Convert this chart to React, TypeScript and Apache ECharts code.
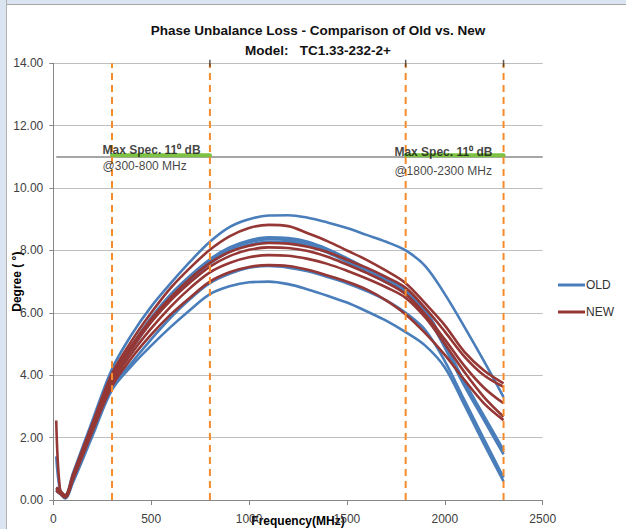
import React, { useEffect, useRef } from 'react';
import * as echarts from 'echarts';

// ---------- data ----------
const freqs = [15, 35, 60, 100, 200, 300, 400, 500, 600, 700, 800, 900, 1000, 1100, 1200, 1300, 1400, 1500, 1600, 1700, 1800, 1900, 2000, 2100, 2200, 2300];

const old1 = [0.35, 0.25, 0.15, 0.85, 2.55, 4.2, 5.3, 6.2, 6.95, 7.65, 8.28, 8.75, 9.0, 9.12, 9.13, 9.05, 8.9, 8.72, 8.5, 8.28, 8.0, 7.5, 6.6, 5.55, 4.45, 3.3];
const old2 = [1.4, 0.3, 0.1, 0.75, 2.4, 3.95, 4.95, 5.85, 6.6, 7.2, 7.72, 8.1, 8.32, 8.42, 8.4, 8.28, 8.05, 7.75, 7.42, 7.1, 6.75, 6.1, 5.0, 3.8, 2.7, 1.6];
const old3 = [0.35, 0.25, 0.1, 0.7, 2.35, 3.9, 4.9, 5.8, 6.52, 7.13, 7.66, 8.03, 8.26, 8.36, 8.34, 8.22, 8.0, 7.7, 7.38, 7.05, 6.7, 6.03, 4.95, 3.72, 2.62, 1.52];
const old4 = [0.4, 0.3, 0.12, 0.7, 2.3, 3.85, 4.82, 5.72, 6.45, 7.06, 7.58, 7.96, 8.18, 8.28, 8.27, 8.15, 7.93, 7.63, 7.3, 6.98, 6.63, 5.97, 4.88, 3.66, 2.56, 1.46];
const old5 = [0.3, 0.2, 0.08, 0.62, 2.15, 3.6, 4.4, 5.15, 5.85, 6.45, 6.95, 7.25, 7.45, 7.5, 7.45, 7.33, 7.15, 6.95, 6.7, 6.4, 6.0, 5.45, 4.45, 3.2, 1.95, 0.72];
const old6 = [0.3, 0.2, 0.05, 0.55, 2.05, 3.53, 4.3, 4.95, 5.55, 6.1, 6.6, 6.85, 6.98, 7.0, 6.92, 6.75, 6.55, 6.33, 6.05, 5.75, 5.38, 4.95, 4.25, 3.05, 1.8, 0.6];

const new1 = [0.4, 0.3, 0.15, 0.8, 2.45, 4.05, 5.1, 6.0, 6.8, 7.45, 8.02, 8.45, 8.72, 8.82, 8.78, 8.55, 8.3, 8.0, 7.7, 7.35, 6.95, 6.3, 5.6, 4.75, 4.15, 3.74];
const new2 = [0.35, 0.25, 0.12, 0.75, 2.4, 3.95, 4.95, 5.8, 6.5, 7.1, 7.6, 7.95, 8.15, 8.24, 8.22, 8.12, 7.95, 7.7, 7.45, 7.15, 6.8, 6.15, 5.4, 4.6, 4.0, 3.63];
const new3 = [2.55, 0.3, 0.1, 0.72, 2.35, 3.85, 4.85, 5.7, 6.4, 6.98, 7.48, 7.82, 8.02, 8.1, 8.08, 7.98, 7.8, 7.55, 7.28, 6.98, 6.6, 5.95, 5.15, 4.3, 3.6, 3.1];
const new4 = [0.3, 0.25, 0.1, 0.68, 2.25, 3.75, 4.7, 5.5, 6.2, 6.8, 7.3, 7.6, 7.78, 7.85, 7.83, 7.73, 7.57, 7.35, 7.1, 6.82, 6.48, 5.85, 5.0, 4.1, 3.3, 2.67];
const new5 = [0.3, 0.2, 0.08, 0.65, 2.2, 3.65, 4.55, 5.3, 5.95, 6.5, 7.0, 7.3, 7.47, 7.53, 7.5, 7.38, 7.2, 7.0, 6.75, 6.4, 5.95, 5.35, 4.65, 3.85, 3.1, 2.56];

const oldCurves = [old1, old2, old3, old4, old5, old6];
const newCurves = [new1, new2, new3, new4, new5];

const specLevel = 11;
const specRange = [15, 2500];
const specBands = [[300, 800], [1800, 2300]];
const markerFreqs = [300, 800, 1800, 2300];
const topTickFreqs = [800, 1800, 2300];

const titleLines = ['Phase Unbalance Loss - Comparison of Old vs. New', 'Model:   TC1.33-232-2+'];
const annotationTexts = ['Max Spec. 11⁰ dB', '@300-800 MHz', 'Max Spec. 11⁰ dB', '@1800-2300 MHz'];
const annotationAnchors = [[254, 11.22], [254, 10.68], [1745, 11.13], [1745, 10.53]];

const xTickStep = 500;
const yTickStep = 2;

// ---------- styles ----------
const BLUE = '#4A7EBB';
const RED = '#953735';
const FONT = 'Liberation Sans, Arial, sans-serif';

export default function App() {
  const ref = useRef<HTMLDivElement>(null);

  useEffect(() => {
    document.body.style.margin = '0';
    const chart = echarts.init(ref.current as HTMLDivElement, null, { renderer: 'svg' });

    const curve = (vals: number[], name: string, color: string) => ({
      type: 'line',
      name,
      data: freqs.map((f, i) => [f, vals[i]]),
      smooth: 0.35,
      symbol: 'none',
      silent: true,
      lineStyle: { color, width: 2.6 },
      itemStyle: { color },
      z: 3,
    });

    const series: any[] = [];
    series.push({
      type: 'line',
      name: 'spec',
      data: specRange.map((f) => [f, specLevel]),
      symbol: 'none',
      silent: true,
      lineStyle: { color: '#a6a6a6', width: 2 },
      z: 2,
    });
    specBands.forEach((b) => {
      series.push({
        type: 'line',
        name: 'band',
        data: b.map((f) => [f, specLevel + 0.05]),
        symbol: 'none',
        silent: true,
        lineStyle: { color: '#7dc242', width: 4, cap: 'round' },
        z: 2,
      });
    });
    oldCurves.forEach((c) => series.push(curve(c, 'OLD', BLUE)));
    newCurves.forEach((c) => series.push(curve(c, 'NEW', RED)));
    markerFreqs.forEach((f) => {
      series.push({
        type: 'line',
        name: 'marker',
        data: [[f, 0], [f, 14]],
        symbol: 'none',
        silent: true,
        lineStyle: { color: '#F68B2B', width: 2, type: [7, 5] },
        z: 4,
      });
    });
    series.push({
      type: 'scatter',
      name: 'tops',
      data: topTickFreqs.map((f) => [f, 14]),
      symbol: 'rect',
      symbolSize: [1.5, 7],
      silent: true,
      itemStyle: { color: '#333' },
      z: 5,
    });
    series.push({
      type: 'scatter',
      name: 'notes',
      silent: true,
      symbolSize: 1,
      itemStyle: { color: 'rgba(0,0,0,0)' },
      z: 6,
      data: annotationTexts.map((t, i) => ({
        value: annotationAnchors[i],
        label: {
          show: true,
          formatter: t,
          position: [0, 0],
          align: 'left',
          verticalAlign: 'middle',
          fontFamily: FONT,
          fontSize: 12,
          fontWeight: i % 2 === 0 ? 'bold' : 'normal',
          color: '#111',
        },
      })),
    });

    chart.setOption({
      animation: false,
      title: {
        text: titleLines.join('\n'),
        left: 318,
        top: 20,
        textAlign: 'center',
        padding: 0,
        textStyle: { fontFamily: FONT, fontWeight: 'bold', fontSize: 13.5, lineHeight: 20, color: '#111' },
      },
      legend: {
        data: [
          { name: 'OLD', icon: 'rect' },
          { name: 'NEW', icon: 'rect' },
        ],
        orient: 'vertical',
        left: 558,
        top: 278,
        padding: 0,
        itemWidth: 27,
        itemHeight: 3,
        itemGap: 13,
        selectedMode: false,
        textStyle: { fontFamily: FONT, fontSize: 12, color: '#333', padding: [0, 0, 0, -4], lineHeight: 14 },
      },
      grid: { left: 53.3, right: 83.3, top: 63.3, bottom: 29, outerBoundsMode: 'none', containLabel: false },
      xAxis: {
        type: 'value',
        min: 0,
        max: 2500,
        interval: xTickStep,
        name: 'Frequency(MHz)',
        nameLocation: 'middle',
        nameGap: 15,
        nameMoveOverlap: false,
        nameTextStyle: { fontFamily: FONT, fontWeight: 'bold', fontSize: 12, color: '#000' },
        axisLine: { show: true, lineStyle: { color: '#868686', width: 1 } },
        axisTick: { show: true, length: 5, lineStyle: { color: '#868686' } },
        axisLabel: { fontFamily: FONT, fontSize: 12, color: '#404040', margin: 13, formatter: (v: number) => String(v) },
        splitLine: { show: false },
      },
      yAxis: {
        type: 'value',
        min: 0,
        max: 14,
        interval: yTickStep,
        name: 'Degree ( °)',
        nameLocation: 'middle',
        nameGap: 30,
        nameMoveOverlap: false,
        nameTextStyle: { fontFamily: FONT, fontWeight: 'bold', fontSize: 12, color: '#000' },
        axisLine: { show: true, lineStyle: { color: '#868686', width: 1 } },
        axisTick: { show: true, length: 4, lineStyle: { color: '#868686' } },
        axisLabel: { fontFamily: FONT, fontSize: 12, color: '#404040', margin: 10, formatter: (v: number) => v.toFixed(2) },
        splitLine: { show: true, lineStyle: { color: '#bfbfbf', width: 1 } },
      },
      series,
    });

    return () => chart.dispose();
  }, []);

  return (
    <div style={{ position: 'relative', width: 626, height: 529, background: '#fff', overflow: 'hidden' }}>
      <div style={{ position: 'absolute', left: 0, top: 0, width: 626, height: 4, background: '#dbe5f1', borderBottom: '1px solid #a6a6a6' }} />
      <div style={{ position: 'absolute', left: 0, top: 0, width: 6, height: 529, background: '#dbe5f1', borderRight: '1px solid #b0b0b0' }} />
      <div ref={ref} style={{ position: 'absolute', left: 0, top: 0, width: 626, height: 529 }} />
    </div>
  );
}
